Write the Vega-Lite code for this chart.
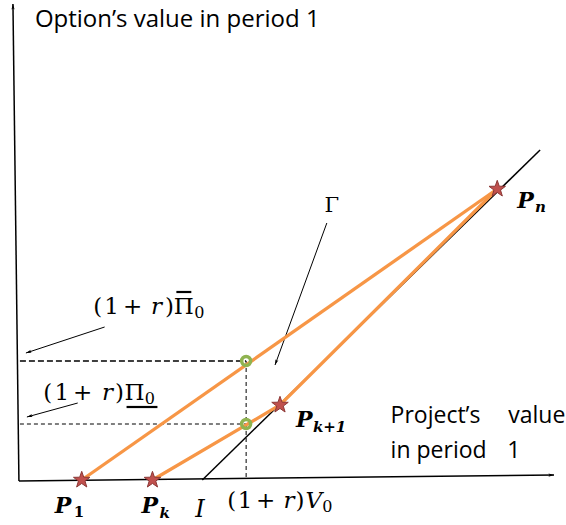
{
  "$schema": "https://vega.github.io/schema/vega-lite/v6.json",
  "width": 566,
  "height": 525,
  "autosize": {"type": "fit", "contains": "padding"},
  "padding": 0,
  "background": "white",
  "config": {"view": {"stroke": null}},
  "datasets": {
    "lines": [
      {"seg": "yaxis", "kind": "axis", "px": 19, "py": 44, "o": 0},
      {"seg": "yaxis", "kind": "axis", "px": 13, "py": 521, "o": 1},
      {"seg": "xaxis", "kind": "axis", "px": 19, "py": 44, "o": 0},
      {"seg": "xaxis", "kind": "axis", "px": 556, "py": 50, "o": 1},
      {"seg": "ray", "kind": "axis", "px": 203, "py": 45, "o": 0},
      {"seg": "ray", "kind": "axis", "px": 542, "py": 375, "o": 1},
      {"seg": "o1", "kind": "orange", "px": 82, "py": 45, "o": 0},
      {"seg": "o1", "kind": "orange", "px": 499, "py": 336, "o": 1},
      {"seg": "o2", "kind": "orange", "px": 153, "py": 45, "o": 0},
      {"seg": "o2", "kind": "orange", "px": 281, "py": 120, "o": 1},
      {"seg": "o2", "kind": "orange", "px": 499, "py": 336, "o": 2},
      {"seg": "dU", "kind": "dashU", "px": 20, "py": 164, "o": 0},
      {"seg": "dU", "kind": "dashU", "px": 247, "py": 164, "o": 1},
      {"seg": "dL", "kind": "dashL", "px": 20, "py": 101, "o": 0},
      {"seg": "dL", "kind": "dashL", "px": 247, "py": 101, "o": 1},
      {"seg": "dV", "kind": "dashL", "px": 247, "py": 164, "o": 0},
      {"seg": "dV", "kind": "dashL", "px": 247, "py": 47, "o": 1},
      {"seg": "a1", "kind": "thin", "px": 105, "py": 198, "o": 0},
      {"seg": "a1", "kind": "thin", "px": 26, "py": 172, "o": 1},
      {"seg": "a2", "kind": "thin", "px": 78, "py": 122, "o": 0},
      {"seg": "a2", "kind": "thin", "px": 27, "py": 108, "o": 1},
      {"seg": "a3", "kind": "thin", "px": 328, "py": 302, "o": 0},
      {"seg": "a3", "kind": "thin", "px": 276, "py": 160, "o": 1},
      {"seg": "ov", "kind": "bar", "px": 177, "py": 233, "o": 0},
      {"seg": "ov", "kind": "bar", "px": 192, "py": 233, "o": 1},
      {"seg": "un", "kind": "bar", "px": 127, "py": 118, "o": 0},
      {"seg": "un", "kind": "bar", "px": 158, "py": 118, "o": 1}
    ],
    "heads": [
      {"px": 13, "py": 521, "ang": -0.7},
      {"px": 556, "py": 50, "ang": 89.4},
      {"px": 26, "py": 172, "ang": -108},
      {"px": 27, "py": 108, "ang": -105},
      {"px": 276, "py": 160, "ang": -160}
    ],
    "stars": [
      {"name": "P1", "px": 82, "py": 45},
      {"name": "Pk", "px": 153, "py": 45},
      {"name": "Pk+1", "px": 281, "py": 120},
      {"name": "Pn", "px": 499, "py": 336}
    ],
    "circles": [
      {"px": 247, "py": 164},
      {"px": 247, "py": 101}
    ],
    "texts": [
      {"t": "title", "label": "Option’s value in period 1", "px": 35, "py": 498},
      {"t": "sans", "label": "Project’s", "px": 392, "py": 102},
      {"t": "sans", "label": "value", "px": 510, "py": 102},
      {"t": "sans", "label": "in period", "px": 392, "py": 67},
      {"t": "sans", "label": "1", "px": 509, "py": 67},
      {"t": "m", "label": "(", "px": 98, "py": 211},
      {"t": "m", "label": "1", "px": 112, "py": 211},
      {"t": "m", "label": "+", "px": 133, "py": 211},
      {"t": "mi", "label": "r", "px": 157, "py": 211},
      {"t": "m", "label": ")", "px": 170, "py": 211},
      {"t": "m", "label": "Π", "px": 184.5, "py": 211},
      {"t": "ms", "label": "0", "px": 200, "py": 207},
      {"t": "m", "label": "(", "px": 48, "py": 125},
      {"t": "m", "label": "1", "px": 62, "py": 125},
      {"t": "m", "label": "+", "px": 83, "py": 125},
      {"t": "mi", "label": "r", "px": 108, "py": 125},
      {"t": "m", "label": ")", "px": 120, "py": 125},
      {"t": "m", "label": "Π", "px": 135, "py": 125},
      {"t": "ms", "label": "0", "px": 150.5, "py": 121},
      {"t": "m", "label": "(", "px": 232.5, "py": 17},
      {"t": "m", "label": "1", "px": 246, "py": 17},
      {"t": "m", "label": "+", "px": 266.5, "py": 17},
      {"t": "mi", "label": "r", "px": 290, "py": 17},
      {"t": "m", "label": ")", "px": 301, "py": 17},
      {"t": "mi", "label": "V", "px": 315, "py": 17},
      {"t": "ms", "label": "0", "px": 328.5, "py": 13},
      {"t": "P", "label": "P", "px": 55, "py": 12},
      {"t": "P", "label": "P", "px": 142, "py": 12},
      {"t": "P", "label": "P", "px": 297, "py": 98},
      {"t": "P", "label": "P", "px": 519, "py": 317},
      {"t": "sub", "label": "1", "px": 74, "py": 8},
      {"t": "subi", "label": "k", "px": 160, "py": 7},
      {"t": "subi", "label": "k+1", "px": 314, "py": 93},
      {"t": "subi", "label": "n", "px": 537, "py": 313},
      {"t": "I", "label": "I", "px": 196, "py": 8},
      {"t": "G", "label": "Γ", "px": 333, "py": 313}
    ]
  },
  "encoding": {
    "x": {"field": "px", "type": "quantitative", "scale": {"domain": [0, 566], "nice": false, "zero": false}, "axis": null},
    "y": {"field": "py", "type": "quantitative", "scale": {"domain": [0, 525], "nice": false, "zero": false}, "axis": null}
  },
  "layer": [
    {
      "data": {"name": "lines"},
      "transform": [{"filter": "datum.kind === 'axis'"}],
      "mark": {"type": "line", "color": "black", "strokeWidth": 1.5},
      "encoding": {"detail": {"field": "seg"}, "order": {"field": "o"}}
    },
    {
      "data": {"name": "lines"},
      "transform": [{"filter": "datum.kind === 'thin'"}],
      "mark": {"type": "line", "color": "black", "strokeWidth": 1},
      "encoding": {"detail": {"field": "seg"}, "order": {"field": "o"}}
    },
    {
      "data": {"name": "lines"},
      "transform": [{"filter": "datum.kind === 'bar'"}],
      "mark": {"type": "line", "color": "black", "strokeWidth": 2.2},
      "encoding": {"detail": {"field": "seg"}, "order": {"field": "o"}}
    },
    {
      "data": {"name": "lines"},
      "transform": [{"filter": "datum.kind === 'dashU'"}],
      "mark": {"type": "line", "color": "black", "strokeWidth": 1.6, "strokeDash": [6, 3]},
      "encoding": {"detail": {"field": "seg"}, "order": {"field": "o"}}
    },
    {
      "data": {"name": "lines"},
      "transform": [{"filter": "datum.kind === 'dashL'"}],
      "mark": {"type": "line", "color": "black", "strokeWidth": 1, "strokeDash": [4, 3]},
      "encoding": {"detail": {"field": "seg"}, "order": {"field": "o"}}
    },
    {
      "data": {"name": "lines"},
      "transform": [{"filter": "datum.kind === 'orange'"}],
      "mark": {"type": "line", "color": "#f79646", "strokeWidth": 3.3},
      "encoding": {"detail": {"field": "seg"}, "order": {"field": "o"}}
    },
    {
      "data": {"name": "heads"},
      "mark": {"type": "point", "shape": "M0,0L0.45,1.6L0,1.25L-0.45,1.6Z", "filled": true, "color": "black", "size": 49, "opacity": 1},
      "encoding": {"angle": {"field": "ang", "type": "quantitative", "scale": null}}
    },
    {
      "data": {"name": "circles"},
      "mark": {"type": "point", "shape": "circle", "filled": false, "stroke": "#8fb350", "strokeWidth": 3.5, "size": 80, "opacity": 1}
    },
    {
      "data": {"name": "stars"},
      "mark": {"type": "point", "shape": "M0,-1L0.235,-0.324L0.951,-0.309L0.38,0.124L0.588,0.809L0,0.4L-0.588,0.809L-0.38,0.124L-0.951,-0.309L-0.235,-0.324Z", "filled": true, "fill": "#c0504d", "stroke": "#8c3836", "strokeWidth": 1, "size": 300, "opacity": 1}
    },
    {
      "data": {"name": "texts"},
      "transform": [{"filter": "datum.t === 'title'"}],
      "mark": {"type": "text", "font": "Open Sans", "fontSize": 24, "align": "left", "baseline": "alphabetic", "color": "black"},
      "encoding": {"text": {"field": "label"}}
    },
    {
      "data": {"name": "texts"},
      "transform": [{"filter": "datum.t === 'sans'"}],
      "mark": {"type": "text", "font": "Open Sans", "fontSize": 23, "align": "left", "baseline": "alphabetic", "color": "black"},
      "encoding": {"text": {"field": "label"}}
    },
    {
      "data": {"name": "texts"},
      "transform": [{"filter": "datum.t === 'm'"}],
      "mark": {"type": "text", "font": "DejaVu Serif", "fontSize": 23, "align": "center", "baseline": "alphabetic", "color": "black"},
      "encoding": {"text": {"field": "label"}}
    },
    {
      "data": {"name": "texts"},
      "transform": [{"filter": "datum.t === 'mi'"}],
      "mark": {"type": "text", "font": "DejaVu Serif", "fontSize": 23, "fontStyle": "italic", "align": "center", "baseline": "alphabetic", "color": "black"},
      "encoding": {"text": {"field": "label"}}
    },
    {
      "data": {"name": "texts"},
      "transform": [{"filter": "datum.t === 'ms'"}],
      "mark": {"type": "text", "font": "DejaVu Serif", "fontSize": 16, "align": "center", "baseline": "alphabetic", "color": "black"},
      "encoding": {"text": {"field": "label"}}
    },
    {
      "data": {"name": "texts"},
      "transform": [{"filter": "datum.t === 'P'"}],
      "mark": {"type": "text", "font": "DejaVu Serif", "fontSize": 22, "fontWeight": "bold", "fontStyle": "italic", "align": "left", "baseline": "alphabetic", "color": "black"},
      "encoding": {"text": {"field": "label"}}
    },
    {
      "data": {"name": "texts"},
      "transform": [{"filter": "datum.t === 'sub'"}],
      "mark": {"type": "text", "font": "DejaVu Serif", "fontSize": 15, "fontWeight": "bold", "align": "left", "baseline": "alphabetic", "color": "black"},
      "encoding": {"text": {"field": "label"}}
    },
    {
      "data": {"name": "texts"},
      "transform": [{"filter": "datum.t === 'subi'"}],
      "mark": {"type": "text", "font": "DejaVu Serif", "fontSize": 15, "fontWeight": "bold", "fontStyle": "italic", "align": "left", "baseline": "alphabetic", "color": "black"},
      "encoding": {"text": {"field": "label"}}
    },
    {
      "data": {"name": "texts"},
      "transform": [{"filter": "datum.t === 'I'"}],
      "mark": {"type": "text", "font": "DejaVu Serif", "fontSize": 24, "fontStyle": "italic", "align": "left", "baseline": "alphabetic", "color": "black"},
      "encoding": {"text": {"field": "label"}}
    },
    {
      "data": {"name": "texts"},
      "transform": [{"filter": "datum.t === 'G'"}],
      "mark": {"type": "text", "font": "DejaVu Serif", "fontSize": 21, "align": "center", "baseline": "alphabetic", "color": "black"},
      "encoding": {"text": {"field": "label"}}
    }
  ]
}
